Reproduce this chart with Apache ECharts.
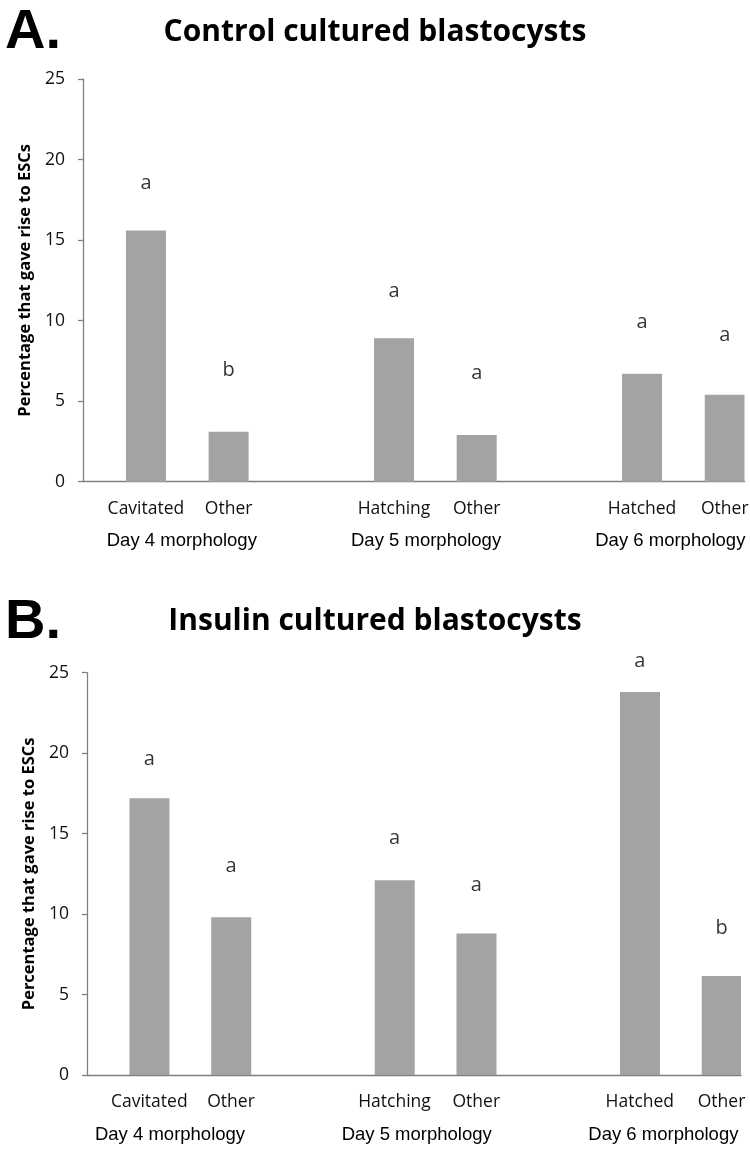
<!DOCTYPE html>
<html><head><meta charset="utf-8">
<script src="https://cdn.jsdelivr.net/npm/echarts@6/dist/echarts.min.js"></script>
<style>html,body{margin:0;padding:0;background:#fff}#c{width:750px;height:1153px}</style>
</head><body><div id="c"></div>
<script>
// ---- data ----
const categories = ['Cavitated', 'Other', '', 'Hatching', 'Other', '', 'Hatched', 'Other'];
const groupLabels = ['Day 4 morphology', 'Day 5 morphology', 'Day 6 morphology'];
const yTickMin = 0, yTickMax = 25, yTickStep = 5;
const controlValues = [15.6, 3.1, null, 8.9, 2.9, null, 6.7, 5.4];
const controlLetters = ['a', 'b', '', 'a', 'a', '', 'a', 'a'];
const controlLetterHeights = [18.5, 6.9, null, 11.8, 6.75, null, 9.9, 9.1];
const insulinValues = [17.2, 9.8, null, 12.1, 8.8, null, 23.8, 6.15];
const insulinLetters = ['a', 'a', '', 'a', 'a', '', 'a', 'b'];
const insulinLetterHeights = [19.6, 13.0, null, 14.7, 11.8, null, 25.7, 9.1];
const panelTitles = ['Control cultured blastocysts', 'Insulin cultured blastocysts'];
const panelTags = ['A.', 'B.'];
const yAxisName = 'Percentage that gave rise to ESCs';

// ---- layout / style ----
const AX = '#808080', BAR = '#a3a3a3';
const SANS = 'Open Sans', ARIAL = 'Liberation Sans';
const panels = [
  { main: { left: 83, top: 79, width: 661.5, height: 402.7 }, grp: { left: 59.7, width: 732.75 },
    values: controlValues, letters: controlLetters, heights: controlLetterHeights, shift: 21.6,
    tagTop: 5, titleTop: 17.5 },
  { main: { left: 87, top: 672.7, width: 654, height: 402.3 }, grp: { left: 46.7, width: 740 },
    values: insulinValues, letters: insulinLetters, heights: insulinLetterHeights, shift: 21.4,
    tagTop: 595, titleTop: 606.5 }
];

const grid = [], xAxis = [], yAxis = [], series = [], title = [];
panels.forEach((p, i) => {
  const gi = grid.length;
  grid.push(Object.assign({ outerBoundsMode: 'none', containLabel: false }, p.main));
  grid.push({ outerBoundsMode: 'none', containLabel: false, left: p.grp.left, width: p.grp.width, top: p.main.top, height: p.main.height });
  xAxis.push({
    type: 'category', gridIndex: gi, data: categories, boundaryGap: true,
    axisLine: { show: true, lineStyle: { color: AX, width: 1.3 } },
    axisTick: { show: false },
    axisLabel: { interval: 0, margin: 18, color: '#111', fontFamily: SANS, fontSize: 17.5,
      padding: [0, 0, 0, 2 * p.shift] }
  });
  xAxis.push({
    type: 'category', gridIndex: gi + 1, data: groupLabels,
    axisLine: { show: false }, axisTick: { show: false },
    axisLabel: { interval: 0, margin: 50, color: '#000', fontFamily: ARIAL, fontSize: 18.5 }
  });
  yAxis.push({
    type: 'value', gridIndex: gi, min: yTickMin, max: yTickMax, interval: yTickStep,
    axisLine: { show: true, lineStyle: { color: AX, width: 1.3 } },
    axisTick: { show: true, length: 5, inside: false, lineStyle: { color: AX, width: 1.3 } },
    splitLine: { show: false },
    axisLabel: { margin: 18, color: '#111', fontFamily: SANS, fontSize: 17.5 },
    name: yAxisName, nameLocation: 'middle', nameGap: 48,
    nameTextStyle: { fontFamily: SANS, fontWeight: 'bold', fontSize: 16.5, color: '#000' }
  });
  yAxis.push({ type: 'value', gridIndex: gi + 1, show: false, min: 0, max: 1 });
  const xi = xAxis.length - 2, yi = yAxis.length - 2;
  series.push({ name: 'spacer' + i, type: 'bar', xAxisIndex: xi, yAxisIndex: yi, data: [], barWidth: 40, barGap: '8%', silent: true });
  series.push({ name: panelTitles[i], type: 'bar', xAxisIndex: xi, yAxisIndex: yi, data: p.values,
    barWidth: 40, barGap: '8%', itemStyle: { color: BAR }, silent: true });
  series.push({ name: 'letters' + i, type: 'scatter', xAxisIndex: xi, yAxisIndex: yi, clip: false, silent: true,
    symbolSize: 0,
    data: p.heights.map((h, k) => [k, h]),
    label: { show: true, position: 'inside', offset: [p.shift, 0], color: '#000', fontFamily: SANS, fontSize: 20,
      formatter: (d) => p.letters[d.dataIndex] } });
  title.push({ text: panelTags[i], left: 5, top: p.tagTop, padding: 0,
    textStyle: { fontFamily: ARIAL, fontWeight: 'bold', fontSize: 56, color: '#000' } });
  title.push({ text: panelTitles[i], left: 'center', top: p.titleTop, padding: 0,
    textStyle: { fontFamily: SANS, fontWeight: 'bold', fontSize: 30, color: '#000' } });
});

const chart = echarts.init(document.getElementById('c'), null, { renderer: 'canvas' });
chart.setOption({ animation: false, backgroundColor: '#fff', title, grid, xAxis, yAxis, series });
</script>
</body></html>
